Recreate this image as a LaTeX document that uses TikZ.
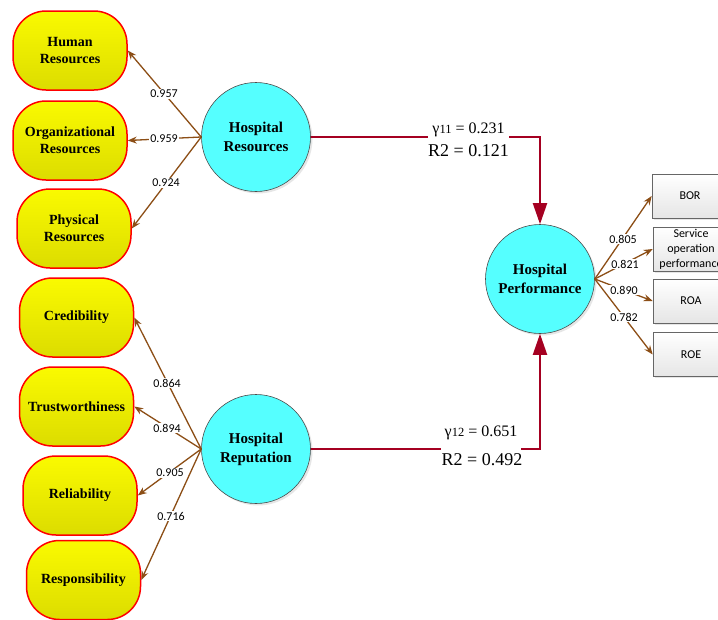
\documentclass[tikz,border=0pt]{standalone}
\usepackage{fontspec}
\setmainfont{Liberation Serif}
\newfontfamily\numfont{Carlito}
\usetikzlibrary{arrows.meta,shadows}

\definecolor{indyellow}{RGB}{250,250,0}
\definecolor{indyellowdark}{RGB}{220,220,0}
\definecolor{latcyan}{RGB}{85,255,255}
\definecolor{loadbrown}{RGB}{140,78,22}
\definecolor{pathred}{RGB}{165,0,33}

\tikzset{
  indicator/.style={draw=red, line width=1.5pt, rounded corners=33pt,
    minimum width=114pt, minimum height=79pt, inner sep=0pt,
    top color=indyellow, bottom color=indyellowdark, align=center,
    font=\bfseries\fontsize{14}{17}\selectfont},
  latent/.style={circle, draw=black!70, line width=0.6pt, fill=latcyan,
    minimum size=109pt, inner sep=0pt, align=center,
    font=\bfseries\fontsize{15}{19}\selectfont,
    drop shadow={opacity=0.2, shadow xshift=2pt, shadow yshift=-2pt}},
  measure/.style={draw=black!60, line width=0.6pt, top color=white,
    bottom color=black!10, minimum width=76pt, minimum height=44pt,
    inner sep=0pt, align=center, font=\numfont\fontsize{12}{15}\selectfont,
    drop shadow={opacity=0.2, shadow xshift=1.5pt, shadow yshift=-1.5pt}},
  loading/.style={draw=loadbrown, line width=1.3pt,
    -{Stealth[length=9pt,width=7pt]}},
  loadlabel/.style={fill=white, inner sep=1pt,
    font=\numfont\fontsize{12}{12}\selectfont},
  structural/.style={draw=pathred, line width=2pt,
    -{Triangle[length=21pt,width=14pt]}},
  gammalabel/.style={fill=white, anchor=base, inner xsep=4pt, inner ysep=1pt,
    font=\fontsize{16}{16}\selectfont},
  rsqlabel/.style={fill=white, anchor=base, inner xsep=3pt, inner ysep=1pt,
    font=\fontsize{18}{18}\selectfont},
}
\newcommand{\pathidx}[1]{{\fontsize{12.5}{12.5}\selectfont #1}}

\begin{document}
\begin{tikzpicture}[x=1pt, y=-1pt]
\useasboundingbox (0,0) rectangle (718,619);

% latent constructs
\node[latent] (hres) at (256,137) {Hospital\\Resources};
\node[latent] (hrep) at (256,449) {Hospital\\Reputation};
\node[latent] (hperf) at (540,279) {Hospital\\Performance};

% indicators of hospital resources
\node[indicator] (human) at (70,50.5) {Human\\Resources};
\node[indicator] (org) at (70,140.5) {Organizational\\Resources};
\node[indicator] (phys) at (74,228.5) {Physical\\Resources};

% indicators of hospital reputation
\node[indicator] (cred) at (76.5,317.5) {Credibility};
\node[indicator] (trust) at (76.5,406.5) {Trustworthiness};
\node[indicator] (reli) at (80,495.5) {Reliability};
\node[indicator] (resp) at (83.5,580) {Responsibility};

% indicators of hospital performance
\node[measure] (bor) at (690,196) {BOR};
\node[measure] (sop) at (691,249) {Service\\operation\\performance};
\node[measure] (roa) at (691,301) {ROA};
\node[measure] (roe) at (691,354.5) {ROE};

% outer loadings
\draw[loading] (hres.west) -- (human.east);
\draw[loading] (hres.west) -- (org.east);
\draw[loading] (hres.west) -- (phys.east);
\node[loadlabel] (l1) at (164,94) {0.957};
\node[loadlabel] (l2) at (164,139) {0.959};
\node[loadlabel] (l3) at (166,183) {0.924};

\draw[loading] (hrep.west) -- (cred.east);
\draw[loading] (hrep.west) -- (trust.east);
\draw[loading] (hrep.west) -- (reli.east);
\draw[loading] (hrep.west) -- (resp.east);
\node[loadlabel] (l4) at (167,383) {0.864};
\node[loadlabel] (l5) at (167,428) {0.894};
\node[loadlabel] (l6) at (170,473) {0.905};
\node[loadlabel] (l7) at (171,516) {0.716};

\draw[loading] (hperf.east) -- (bor.west);
\draw[loading] (hperf.east) -- (sop.west);
\draw[loading] (hperf.east) -- (roa.west);
\draw[loading] (hperf.east) -- (roe.west);
\node[loadlabel] (l8) at (623,239) {0.805};
\node[loadlabel] (l9) at (625,264) {0.821};
\node[loadlabel] (l10) at (624,290) {0.890};
\node[loadlabel] (l11) at (624,317) {0.782};

% structural paths
\draw[structural] (hres.east) -| (hperf.north);
\draw[structural] (hrep.east) -| (hperf.south);

\node[gammalabel, text depth=9pt] (g11) at (468.5,133)
  {γ\pathidx{11} = 0.231};
\node[rsqlabel] (r21) at (468.5,156) {R2 = 0.121};

\node[gammalabel, text depth=14pt] (g12) at (481,436)
  {γ\pathidx{12} = 0.651};
\node[rsqlabel] (r22) at (482,465) {R2 = 0.492};
\end{tikzpicture}
\end{document}
